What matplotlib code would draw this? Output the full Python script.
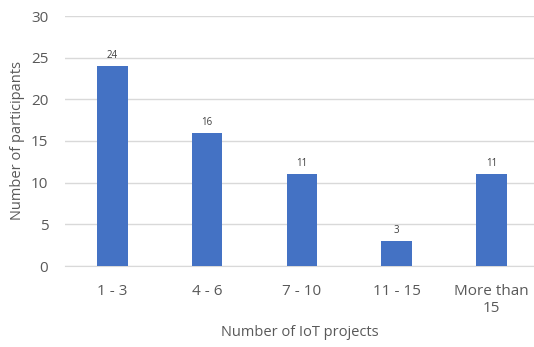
import matplotlib
matplotlib.use("Agg")
import matplotlib.pyplot as plt

plt.rcParams["font.family"] = ["Open Sans", "DejaVu Sans"]

# 参与者按 IoT 项目数量分布
categories = ["1 - 3", "4 - 6", "7 - 10", "11 - 15", "More than\n15"]
participants = [24, 16, 11, 3, 11]

fig = plt.figure(figsize=(5.34, 3.47), dpi=100)
ax = fig.add_axes([65 / 534, 81 / 347, 469 / 534, 250 / 347])

x = range(len(categories))
bars = ax.bar(x, participants, width=0.32, color="#4472C4", zorder=3)
for xi, v in zip(x, participants):
    ax.text(xi, v + 0.6, str(v), ha="center", va="bottom", fontsize=7, color="#404040")

ax.set_ylim(0, 30)
ax.set_yticks(range(0, 31, 5))
ax.set_xlim(-0.5, 4.45)
ax.set_xticks(list(x))
ax.set_xticklabels(categories)
ax.grid(axis="y", color="#d9d9d9", linewidth=1, zorder=0)
for s in ["top", "right", "left"]:
    ax.spines[s].set_visible(False)
ax.spines["bottom"].set_color("#d9d9d9")
ax.tick_params(length=0, labelsize=11, colors="#595959")
ax.tick_params(axis="x", pad=13)
ax.tick_params(axis="y", pad=12)

ax.set_xlabel("Number of IoT projects", fontsize=10.5, color="#595959", labelpad=6)
ax.set_ylabel("Number of participants", fontsize=10.5, color="#595959", labelpad=4)

fig.savefig("out.png", dpi=100)
